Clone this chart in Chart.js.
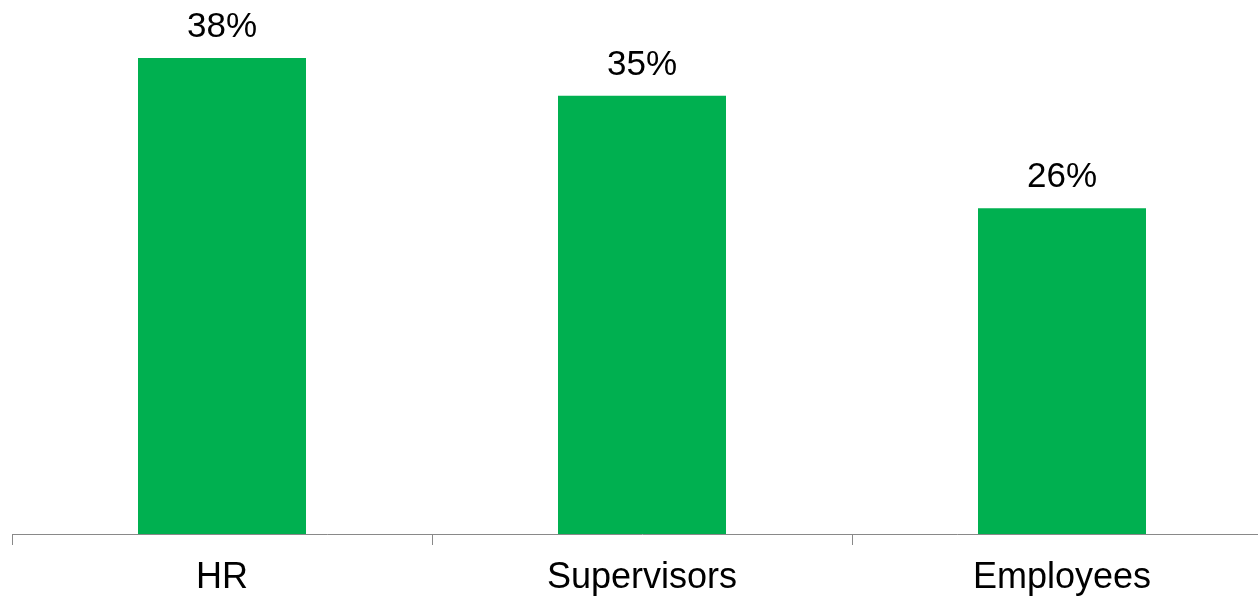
<!DOCTYPE html>
<html lang="en">
<head>
    <meta charset="UTF-8">
    <title>HR / Supervisors / Employees</title>
    <script src="https://cdn.jsdelivr.net/npm/chart.js"></script>
    <style>
        body {
            margin: 0;
            padding: 0;
            overflow: hidden;
            background: #ffffff;
        }

        #chartContainer {
            position: absolute;
            left: 0;
            top: 0;
            width: 1272px; /* right edge of the plot runs past the window */
            height: 598px;
        }
    </style>
</head>
<body>
    <div id="chartContainer">
        <canvas id="chart" width="1272" height="598"></canvas>
    </div>

    <script>
        // Data
        const categories = ['HR', 'Supervisors', 'Employees'];
        const percents = [38, 35, 26];

        const green = '#00B050';
        const axisGray = '#898989';

        // Value labels above each bar
        const barLabels = {
            id: 'barLabels',
            afterDatasetsDraw(chart) {
                const ctx = chart.ctx;
                const meta = chart.getDatasetMeta(0);
                ctx.save();
                ctx.font = '35px "Liberation Sans", Arial, sans-serif';
                ctx.fillStyle = '#000000';
                ctx.textAlign = 'center';
                ctx.textBaseline = 'alphabetic';
                meta.data.forEach((bar, i) => {
                    ctx.fillText(percents[i] + '%', bar.x, bar.y - 21);
                });
                ctx.restore();
            }
        };

        const ctx = document.getElementById('chart').getContext('2d');

        new Chart(ctx, {
            type: 'bar',
            data: {
                labels: categories,
                datasets: [{
                    data: percents,
                    backgroundColor: green,
                    borderWidth: 0,
                    categoryPercentage: 1.0,
                    barPercentage: 0.4
                }]
            },
            options: {
                responsive: false,
                animation: false,
                layout: {
                    padding: { left: 12, right: 0, top: 33, bottom: 0 }
                },
                plugins: {
                    legend: { display: false },
                    tooltip: { enabled: false }
                },
                scales: {
                    x: {
                        offset: true,
                        grid: {
                            offset: true,
                            drawOnChartArea: false,
                            drawTicks: true,
                            tickLength: 11,
                            color: axisGray,
                            lineWidth: 1
                        },
                        border: {
                            display: true,
                            color: axisGray,
                            width: 1
                        },
                        ticks: {
                            color: '#000000',
                            padding: 11,
                            maxRotation: 0,
                            font: {
                                family: '"Liberation Sans", Arial, sans-serif',
                                size: 36
                            }
                        },
                        afterFit(scale) {
                            scale.height = 64;
                        }
                    },
                    y: {
                        display: false,
                        min: 0,
                        max: 40
                    }
                }
            },
            plugins: [barLabels]
        });
    </script>
</body>
</html>
